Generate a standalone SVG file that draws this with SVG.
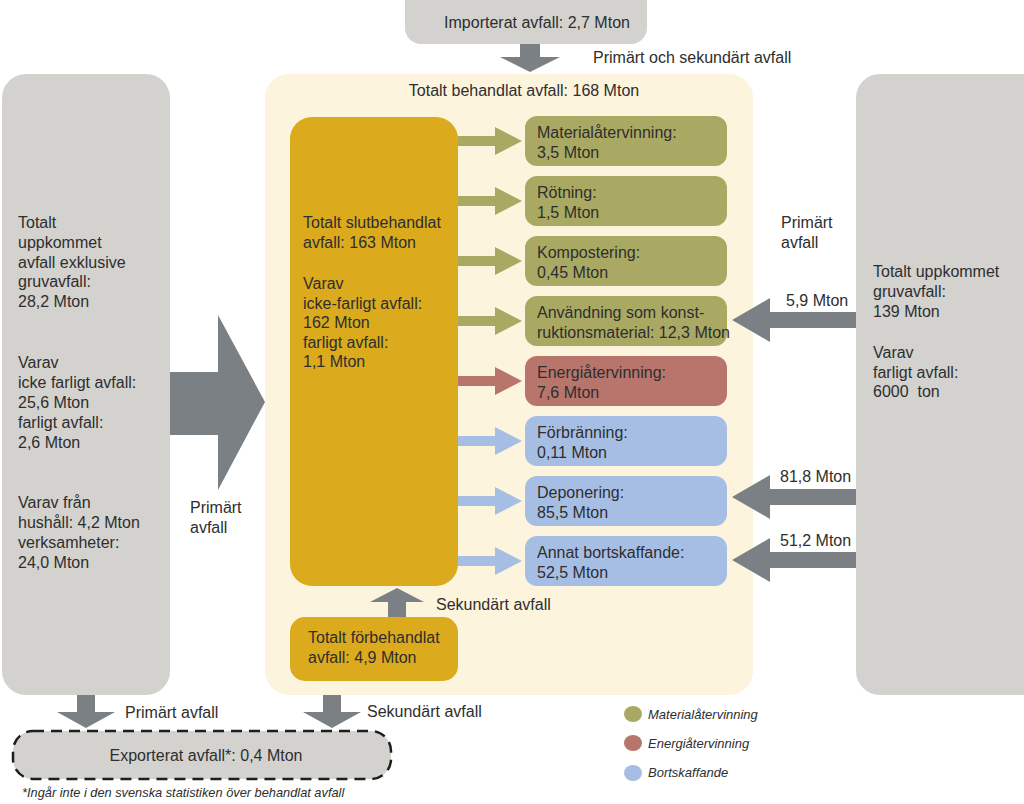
<svg xmlns="http://www.w3.org/2000/svg" width="1024" height="804" viewBox="0 0 1024 804">
<defs>
<style>
text{font-family:"Liberation Sans",Arial,sans-serif;font-size:16px;fill:#2e2e2e}
.grey{fill:#d3d2cf}
.cream{fill:#fdf4dd}
.gold{fill:#dbaa1d}
.olive{fill:#a9a964}
.red{fill:#b7756c}
.blue{fill:#a7bee4}
.arr{fill:#7a8083}
.mid{text-anchor:middle}
.it{font-style:italic;font-size:13px}
.foot{font-style:italic;font-size:12.8px}
</style>
</defs>
<rect width="1024" height="804" fill="#ffffff"/>

<g id="import">
<rect class="grey" x="405" y="-20" width="242" height="64" rx="16"/>
<text class="mid" x="537" y="28">Importerat avfall: 2,7 Mton</text>
</g>

<g id="left-box">
<rect class="grey" x="2" y="74" width="168" height="621" rx="24"/>
<text x="18" y="228">Totalt</text>
<text x="18" y="248">uppkommet</text>
<text x="18" y="268">avfall exklusive</text>
<text x="18" y="287">gruvavfall:</text>
<text x="18" y="307">28,2 Mton</text>
<text x="18" y="368">Varav</text>
<text x="18" y="388">icke farligt avfall:</text>
<text x="18" y="408">25,6 Mton</text>
<text x="18" y="428">farligt avfall:</text>
<text x="18" y="448">2,6 Mton</text>
<text x="18" y="508">Varav från</text>
<text x="18" y="528">hushåll: 4,2 Mton</text>
<text x="18" y="548">verksamheter:</text>
<text x="18" y="568">24,0 Mton</text>
</g>

<g id="right-box">
<rect class="grey" x="856" y="74" width="190" height="621" rx="24"/>
<text x="873" y="277">Totalt uppkommet</text>
<text x="873" y="297">gruvavfall:</text>
<text x="873" y="317">139 Mton</text>
<text x="873" y="358">Varav</text>
<text x="873" y="378">farligt avfall:</text>
<text x="873" y="397">6000&#160; ton</text>
</g>

<g id="treated">
<rect class="cream" x="265" y="74" width="488" height="621" rx="24"/>
<text class="mid" x="524" y="96">Totalt behandlat avfall: 168 Mton</text>
</g>

<g id="final-treated">
<rect class="gold" x="290" y="117" width="168" height="469" rx="22"/>
<text x="303" y="228">Totalt slutbehandlat</text>
<text x="303" y="248">avfall: 163 Mton</text>
<text x="303" y="289">Varav</text>
<text x="303" y="309">icke-farligt avfall:</text>
<text x="303" y="328">162 Mton</text>
<text x="303" y="348">farligt avfall:</text>
<text x="303" y="367">1,1 Mton</text>
</g>

<g id="pre-treated">
<rect class="gold" x="290" y="617" width="168" height="64" rx="15"/>
<text x="308" y="643">Totalt förbehandlat</text>
<text x="308" y="663">avfall: 4,9 Mton</text>
</g>

<g id="material">
<rect class="olive" x="525" y="116" width="202" height="50" rx="12"/>
<text x="537" y="138">Materialåtervinning:</text>
<text x="537" y="158">3,5 Mton</text>
</g>
<g id="rotning">
<rect class="olive" x="525" y="176" width="202" height="50" rx="12"/>
<text x="537" y="198">Rötning:</text>
<text x="537" y="218">1,5 Mton</text>
</g>
<g id="kompostering">
<rect class="olive" x="525" y="236" width="202" height="50" rx="12"/>
<text x="537" y="258">Kompostering:</text>
<text x="537" y="278">0,45 Mton</text>
</g>
<g id="konstruktion">
<rect class="olive" x="525" y="296" width="202" height="50" rx="12"/>
<text x="537" y="318">Användning som konst-</text>
<text x="537" y="338">ruktionsmaterial: 12,3 Mton</text>
</g>
<g id="energi">
<rect class="red" x="525" y="356" width="202" height="50" rx="12"/>
<text x="537" y="378">Energiåtervinning:</text>
<text x="537" y="398">7,6 Mton</text>
</g>
<g id="forbranning">
<rect class="blue" x="525" y="416" width="202" height="50" rx="12"/>
<text x="537" y="438">Förbränning:</text>
<text x="537" y="458">0,11 Mton</text>
</g>
<g id="deponering">
<rect class="blue" x="525" y="476" width="202" height="50" rx="12"/>
<text x="537" y="498">Deponering:</text>
<text x="537" y="518">85,5 Mton</text>
</g>
<g id="annat">
<rect class="blue" x="525" y="536" width="202" height="50" rx="12"/>
<text x="537" y="558">Annat bortskaffande:</text>
<text x="537" y="578">52,5 Mton</text>
</g>

<g id="export">
<rect class="grey" x="13" y="731" width="378" height="48" rx="20" stroke="#1e1e1e" stroke-width="2.5" stroke-dasharray="11 7"/>
<text class="mid" x="206" y="761">Exporterat avfall*: 0,4 Mton</text>
</g>

<g id="connectors">
<polygon class="arr" points="520,44 540,44 540,57 560,57 530,72 500,57 520,57"/>
<polygon class="arr" points="170,372 218,372 218,315 265,402 218,490 218,435 170,435"/>
<g>
<polygon class="olive" points="458,136 495,136 495,127 522,141 495,155 495,146 458,146"/>
<polygon class="olive" points="458,196 495,196 495,187 522,201 495,215 495,206 458,206"/>
<polygon class="olive" points="458,256 495,256 495,247 522,261 495,275 495,266 458,266"/>
<polygon class="olive" points="458,316 495,316 495,307 522,321 495,335 495,326 458,326"/>
<polygon class="red" points="458,376 495,376 495,367 522,381 495,395 495,386 458,386"/>
<polygon class="blue" points="458,436 495,436 495,427 522,441 495,455 495,446 458,446"/>
<polygon class="blue" points="458,496 495,496 495,487 522,501 495,515 495,506 458,506"/>
<polygon class="blue" points="458,556 495,556 495,547 522,561 495,575 495,566 458,566"/>
</g>
<polygon class="arr" points="856,312 770,312 770,298 732,320 770,342 770,328 856,328"/>
<polygon class="arr" points="856,489 770,489 770,475 732,497 770,519 770,505 856,505"/>
<polygon class="arr" points="856,552 770,552 770,538 732,560 770,582 770,568 856,568"/>
<polygon class="arr" points="388,617 406,617 406,602 424,602 397,588 370,602 388,602"/>
<polygon class="arr" points="77,695 95,695 95,712 115,712 86,728 57,712 77,712"/>
<polygon class="arr" points="323,695 341,695 341,712 361,712 332,728 303,712 323,712"/>
</g>

<g id="labels">
<text x="593" y="63">Primärt och sekundärt avfall</text>
<text x="190" y="513">Primärt</text>
<text x="190" y="533">avfall</text>
<text x="781" y="228">Primärt</text>
<text x="781" y="248">avfall</text>
<text x="786" y="306">5,9 Mton</text>
<text x="780" y="482">81,8 Mton</text>
<text x="780" y="546">51,2 Mton</text>
<text x="436" y="610">Sekundärt avfall</text>
<text x="125" y="718">Primärt avfall</text>
<text x="367" y="717">Sekundärt avfall</text>
</g>

<g id="legend">
<ellipse class="olive" cx="633" cy="714" rx="9" ry="8"/>
<text class="it" x="648" y="719">Materialåtervinning</text>
<ellipse class="red" cx="633" cy="743" rx="9" ry="8"/>
<text class="it" x="648" y="748">Energiåtervinning</text>
<ellipse class="blue" cx="633" cy="773" rx="9" ry="8"/>
<text class="it" x="648" y="777">Bortskaffande</text>
</g>

<text class="foot" x="22" y="797">*Ingår inte i den svenska statistiken över behandlat avfall</text>
</svg>
